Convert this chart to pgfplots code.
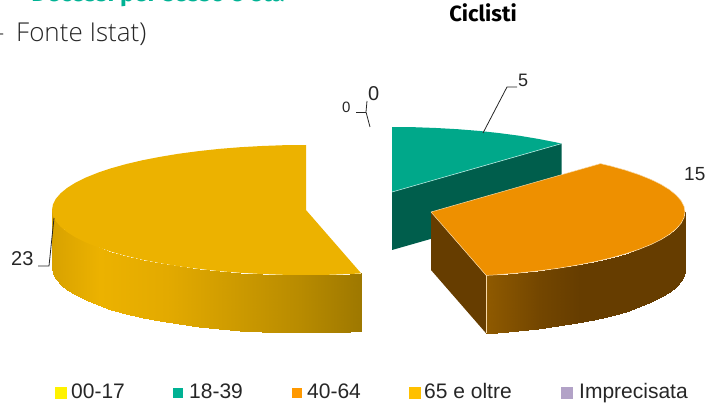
\documentclass[border=0pt]{standalone}
\usepackage{pgfplots}
\usepackage{fontspec}
\pgfplotsset{compat=1.18}
\setmainfont{Liberation Sans}
\newfontfamily\headfont{Fira Sans}
\newfontfamily\lightfont{Open Sans Light}

\definecolor{tealtop}{HTML}{00A88A}
\definecolor{tealside}{HTML}{005E4C}
\definecolor{ortop}{HTML}{EE9000}
\definecolor{orside}{HTML}{663D00}
\definecolor{ortedge}{HTML}{F8D9A8}
\definecolor{goldtop}{HTML}{ECB200}
\definecolor{headteal}{HTML}{00B294}
\definecolor{lab}{HTML}{262626}

\pgfplotsset{
  colormap={orgrad}{rgb255(0pt)=(143,90,0) rgb255(486pt)=(143,90,0) rgb255(540pt)=(115,70,0) rgb255(580pt)=(102,61,0) rgb255(713pt)=(102,61,0)},
  colormap={goldgrad}{rgb255(0pt)=(216,162,0) rgb255(52pt)=(216,162,0) rgb255(100pt)=(236,178,0) rgb255(167pt)=(227,170,0) rgb255(233pt)=(206,155,0) rgb255(300pt)=(184,139,0) rgb255(361pt)=(158,120,0) rgb255(713pt)=(158,120,0)},
}

\newcommand{\lab}[4]{\node[anchor=base #1, inner sep=0pt, text=lab, font=\fontsize{#2}{#2}\selectfont] at (axis cs:#3) {#4};}

\begin{document}
\begin{tikzpicture}
\useasboundingbox (0,0) rectangle (713pt,406pt);
\clip (0,0) rectangle (713pt,406pt);
\begin{axis}[
  at={(0,0)}, anchor=south west,
  scale only axis, width=713pt, height=406pt,
  xmin=0, xmax=713, ymin=0, ymax=406, y dir=reverse,
  hide axis, clip=false,
  point meta min=0, point meta max=713,
]
% teal slice, 5
\addplot[fill=tealside, draw=none] coordinates {
  (392,192) (561.5,143.6) (561.5,201.6) (392,250) (392,192)};
\addplot[fill=tealtop, draw=none] coordinates {
  (392,192) (392,127) (414.1,127.2) (436.1,128) (457.7,129.2) (478.9,130.9) (499.3,133.1)
  (519,135.7) (537.7,138.8) (555.3,142.2) (561.5,143.6) (392,192)};
\addplot[draw=tealtop!30, line width=0.6pt] coordinates {(392,192) (561.5,143.6)};

% orange slice, 15
\addplot[fill=orside, draw=none] coordinates {
  (431,212) (431,270) (486.2,333.4) (486.2,275.4) (431,212)};
\addplot[surf, shader=interp, colormap name=orgrad, mesh/rows=2, point meta=x] table {
x y
685 212
684 217.7
681.1 223.3
676.3 228.8
669.7 234.2
661.2 239.5
651 244.5
639.1 249.3
625.6 253.8
610.6 258
594.3 261.8
576.7 265.2
558 268.3
538.3 270.9
517.9 273.1
496.7 274.8
486.2 275.4
685 270
684 275.7
681.1 281.3
676.3 286.8
669.7 292.2
661.2 297.5
651 302.5
639.1 307.3
625.6 311.8
610.6 316
594.3 319.8
576.7 323.2
558 326.3
538.3 328.9
517.9 331.1
496.7 332.8
486.2 333.4
};
\addplot[fill=ortop, draw=ortedge, line width=0.5pt] coordinates {
  (431,212) (600.5,163.6) (610.6,166) (625.6,170.2) (639.1,174.7) (651,179.5) (661.2,184.5)
  (669.7,189.8) (676.3,195.2) (681.1,200.7) (684,206.3) (685,212) (684,217.7) (681.1,223.3)
  (676.3,228.8) (669.7,234.2) (661.2,239.5) (651,244.5) (639.1,249.3) (625.6,253.8)
  (610.6,258) (594.3,261.8) (576.7,265.2) (558,268.3) (538.3,270.9) (517.9,273.1)
  (496.7,274.8) (486.2,275.4) (431,212)};
\addplot[draw=ortedge, line width=0.5pt] coordinates {(486.2,275.4) (486.2,333.4)};

% gold slice, 23
\addplot[surf, shader=interp, colormap name=goldgrad, mesh/rows=2, point meta=x] table {
x y
361.2 273.4
350.1 274
328.1 274.8
306 275
283.9 274.8
261.9 274
240.3 272.8
219.1 271.1
198.7 268.9
179 266.3
160.3 263.2
142.7 259.8
126.4 256
111.4 251.8
97.9 247.3
86 242.5
75.8 237.5
67.3 232.2
60.7 226.8
55.9 221.3
53 215.7
52 210
361.2 331.4
350.1 332
328.1 332.8
306 333
283.9 332.8
261.9 332
240.3 330.8
219.1 329.1
198.7 326.9
179 324.3
160.3 321.2
142.7 317.8
126.4 314
111.4 309.8
97.9 305.3
86 300.5
75.8 295.5
67.3 290.2
60.7 284.8
55.9 279.3
53 273.7
52 268
};
\addplot[fill=goldtop, draw=none] coordinates {
  (306,210) (361.2,273.4) (350.1,274) (328.1,274.8) (306,275) (283.9,274.8) (261.9,274)
  (240.3,272.8) (219.1,271.1) (198.7,268.9) (179,266.3) (160.3,263.2) (142.7,259.8)
  (126.4,256) (111.4,251.8) (97.9,247.3) (86,242.5) (75.8,237.5) (67.3,232.2) (60.7,226.8)
  (55.9,221.3) (53,215.7) (52,210) (53,204.3) (55.9,198.7) (60.7,193.2) (67.3,187.8)
  (75.8,182.5) (86,177.5) (97.9,172.7) (111.4,168.2) (126.4,164) (142.7,160.2) (160.3,156.8)
  (179,153.7) (198.7,151.1) (219.1,148.9) (240.3,147.2) (261.9,146) (283.9,145.2) (306,145) (306,210)};

% leader lines
\addplot[draw=lab, line width=0.8pt] coordinates {(483,133) (507,87) (517,87)};
\addplot[draw=lab, line width=0.8pt] coordinates {(54,218) (49,266) (38,266)};
\addplot[draw=lab, line width=0.8pt] coordinates {(356,112) (366,112)};
\addplot[draw=lab, line width=0.8pt] coordinates {(367,101) (366,112) (370,127)};

% legend keys
\addplot[only marks, mark=square*, mark size=5.5pt, color=yellow] coordinates {(61,392.5)};
\addplot[only marks, mark=square*, mark size=4.5pt, color=headteal] coordinates {(178,392.5)};
\addplot[only marks, mark=square*, mark size=4.5pt, color={rgb,255:red,255;green,153;blue,0}] coordinates {(297,392.5)};
\addplot[only marks, mark=square*, mark size=5.5pt, color={rgb,255:red,255;green,192;blue,0}] coordinates {(414.5,392.5)};
\addplot[only marks, mark=square*, mark size=5.5pt, color={rgb,255:red,178;green,162;blue,199}] coordinates {(567,392.5)};

\lab{west}{21}{71,399}{00-17}
\lab{west}{21}{189,399}{18-39}
\lab{west}{21}{307,399}{40-64}
\lab{west}{21}{424,399}{65 e oltre}
\lab{west}{21}{579,399}{Imprecisata}

\lab{west}{18}{518,87}{5}
\lab{west}{19}{684,181}{15}
\lab{west}{20}{11,266}{23}
\lab{west}{15}{342,113}{0}
\lab{west}{20}{368,101}{0}

\node[anchor=base, inner sep=0pt, font=\headfont\bfseries\fontsize{22}{22}\selectfont] at (axis cs:483,22) {Ciclisti};
\node[anchor=base east, inner sep=0pt, text=headteal, font=\headfont\bfseries\fontsize{24}{24}\selectfont] at (axis cs:285,2) {Decessi per sesso e età};
\node[anchor=base west, inner sep=0pt, text=lab, font=\lightfont\fontsize{26}{26}\selectfont] at (axis cs:16,42) {Fonte Istat)};
\node[anchor=base west, inner sep=0pt, text=lab, font=\lightfont\fontsize{26}{26}\selectfont] at (axis cs:-4,42) {-};
\end{axis}
\end{tikzpicture}
\end{document}
